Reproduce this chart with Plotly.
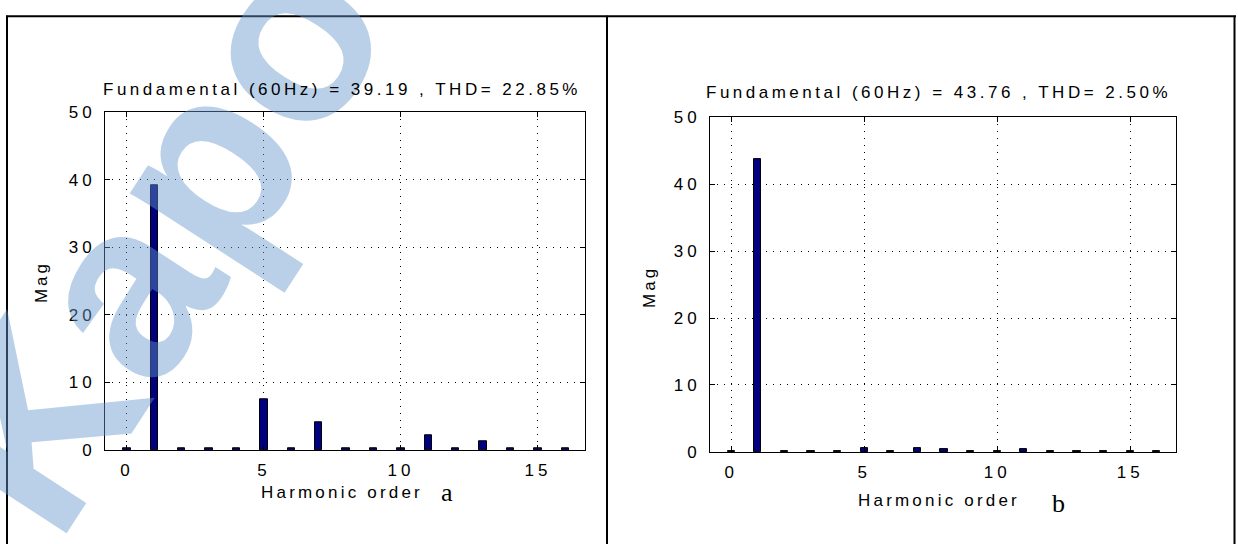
import plotly.graph_objects as go

# ---------------- data ----------------
harmonics = list(range(17))
mag_a = [0.2, 39.19, 0.2, 0.2, 0.2, 7.5, 0.2, 4.1, 0.2, 0.2, 0.2, 2.2, 0.2, 1.3, 0.2, 0.2, 0.2]
mag_b = [0.2, 43.76, 0.15, 0.15, 0.15, 0.65, 0.15, 0.65, 0.4, 0.15, 0.15, 0.45, 0.15, 0.15, 0.15, 0.15, 0.15]
title_a = "Fundamental (60Hz) = 39.19 , THD= 22.85%"
title_b = "Fundamental (60Hz) = 43.76 , THD= 2.50%"
x_tick_vals = [0, 5, 10, 15]
x_tick_text = ["0", "5", "10", "15"]
y_tick_vals = [0, 10, 20, 30, 40, 50]
y_tick_text = ["0", "10", "20", "30", "40", "50"]
x_label = "Harmonic order"
y_label = "Mag"
panel_labels = ["a", "b"]
watermark = "Kapo"

W, H = 1238, 544
FONT = "Liberation Sans"


def px(x):
    return x / W


def py(y):
    return 1 - y / H


def sp(t, s=3.5):
    return f'<span style="letter-spacing:{s}px">{t}</span>'


fig = go.Figure()
for vals, xa, ya in [(mag_a, "x", "y"), (mag_b, "x2", "y2")]:
    fig.add_trace(go.Bar(
        x=harmonics, y=vals, xaxis=xa, yaxis=ya, width=0.27,
        marker=dict(color="#000080", line=dict(color="black", width=1)),
        showlegend=False, hoverinfo="x+y",
    ))

axis_common = dict(
    showline=True, linecolor="black", linewidth=1, mirror="ticks",
    ticks="inside", ticklen=5, tickcolor="black", tickwidth=1,
    showgrid=True, gridcolor="black", gridwidth=1, griddash="1px,6px",
    zeroline=False, tickfont=dict(family=FONT, size=17, color="black"),
    ticklabelstandoff=5,
)

xa_kw = dict(axis_common, range=[-0.8, 16.72], tickmode="array",
             tickvals=x_tick_vals, ticktext=[sp(t, 4) for t in x_tick_text])
ya_kw = dict(axis_common, range=[0, 50], tickmode="array",
             tickvals=y_tick_vals, ticktext=[sp(t, 4) for t in y_tick_text])

fig.update_layout(
    width=W, height=H, margin=dict(l=0, r=0, t=0, b=0),
    paper_bgcolor="white", plot_bgcolor="white",
    xaxis=dict(xa_kw, domain=[px(105), px(585)], anchor="y"),
    yaxis=dict(ya_kw, domain=[py(457), py(107)], anchor="x"),
    xaxis2=dict(xa_kw, domain=[px(710), px(1176)], anchor="y2"),
    yaxis2=dict(ya_kw, domain=[py(459), py(112)], anchor="x2"),
    font=dict(family=FONT, size=17, color="black"),
    bargap=0, hovermode="closest",
)


def note(text, x, y, size=17, family=FONT, angle=0, color="black"):
    return dict(text=text, x=px(x), y=py(y), xref="paper", yref="paper", showarrow=False,
                xanchor="center", yanchor="middle", textangle=angle,
                font=dict(family=family, size=size, color=color))


ann = [
    note(f"<b>{watermark}</b>", 155, 238, size=250, angle=-57, color="rgba(100,150,205,0.45)"),
    note(sp(title_a), 342, 83),
    note(sp(title_b), 938, 87),
    note(sp(y_label, 3), 41, 283, angle=-90),
    note(sp(y_label, 3), 650, 288, angle=-90),
    note(sp(x_label, 3.2), 342, 501),
    note(sp(x_label, 3.2), 939, 509),
    note(panel_labels[0], 447, 501, size=26, family="Liberation Serif"),
    note(panel_labels[1], 1058, 512, size=26, family="Liberation Serif"),
]
fig.update_layout(annotations=ann)

# table borders
line = dict(color="black", width=2)
shapes = [dict(type="line", xref="paper", yref="paper", x0=px(6), x1=px(1236),
               y0=py(7.5), y1=py(7.5), line=line)]
for xv in [7, 607, 1234.5]:
    shapes.append(dict(type="line", xref="paper", yref="paper", x0=px(xv), x1=px(xv),
                       y0=py(7), y1=py(560), line=line))
fig.update_layout(shapes=shapes)

fig.write_html(
    "out.html",
    config={"displayModeBar": False},
    post_script="document.body.style.margin='0px';document.body.style.overflow='hidden';",
)
